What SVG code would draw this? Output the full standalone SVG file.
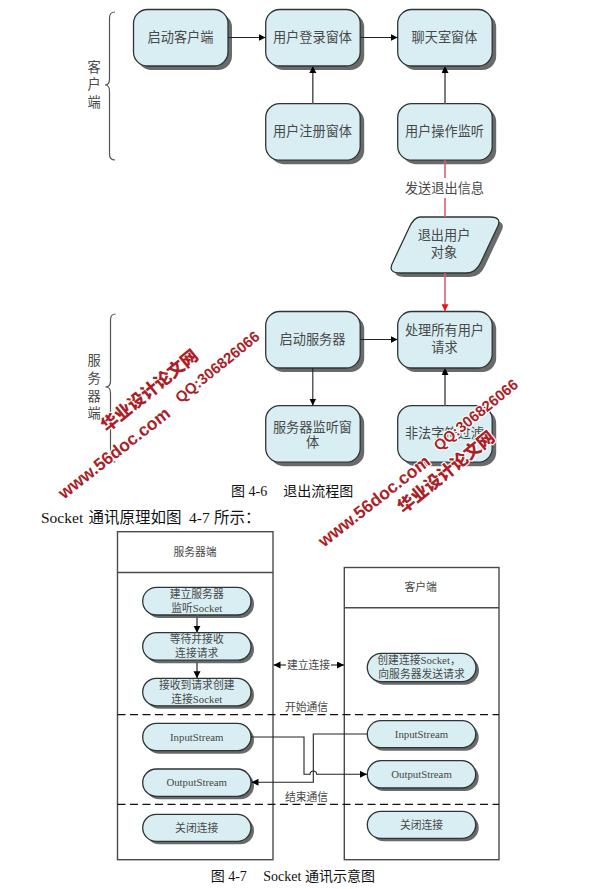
<svg xmlns="http://www.w3.org/2000/svg" width="601" height="889" viewBox="0 0 601 889">
<defs>
<marker id="ah" markerUnits="userSpaceOnUse" markerWidth="8" markerHeight="8" refX="7" refY="3.5" orient="auto-start-reverse"><path d="M0,0 L7,3.5 L0,7 Z" fill="#000"/></marker>
<marker id="ahr" markerUnits="userSpaceOnUse" markerWidth="8" markerHeight="8" refX="7" refY="3.5" orient="auto"><path d="M0,0 L7,3.5 L0,7 Z" fill="#e01818"/></marker>
</defs>
<style>
text{font-family:"Liberation Serif","Noto Sans CJK SC",serif;text-anchor:middle;fill:#484848;white-space:pre}
.t{font-size:13.2px}
.s{font-size:10.8px}
.cap{font-size:14px;fill:#111;text-anchor:start}
.body{font-size:15.5px;fill:#111;text-anchor:start}
.sh{fill:#6a6a6a}
.box{fill:#d8eef2;stroke:#2c3636;stroke-width:1.3}
.frame{fill:none;stroke:#4a4a4a;stroke-width:1.4}
.brace{fill:none;stroke:#555;stroke-width:1.2}
.dash{fill:none;stroke:#111;stroke-width:1.3;stroke-dasharray:8 4.5}
.c{fill:none;stroke:#222;stroke-width:1.1}
.g{fill:none;stroke:#5c5c5c;stroke-width:1.6}
.r{fill:none;stroke:#d9606c;stroke-width:1.6}
.wm{font-family:"Liberation Sans","Noto Sans CJK SC",sans-serif;font-weight:700;fill:#ab1f28;stroke:#fff;stroke-width:2.2px;paint-order:stroke;stroke-linejoin:round}
.wa{font-size:17.5px}
.wb{font-size:15px;font-weight:700}
.wc{font-size:17px;font-weight:900}
</style>

<g id="brace-client"><path class="brace" d="M115,12 Q109.5,12 109.5,18 V79 Q109.5,85 105,85 Q109.5,85 109.5,91 V154 Q109.5,160 115,160"/>
<text class="t" x="94" y="71.5">客</text><text class="t" x="94" y="89">户</text><text class="t" x="94" y="106.500">端</text></g>
<g id="brace-server"><path class="brace" d="M115.500,314 Q110.500,314 110.500,320 V381 Q110.500,387 105.500,387 Q110.500,387 110.500,393 V456 Q110.500,462 115.500,462"/>
<text class="t" x="94" y="365">服</text><text class="t" x="94" y="383">务</text><text class="t" x="94" y="400.500">器</text><text class="t" x="94" y="418">端</text></g>

<g id="n-start-client"><rect class="sh" x="137.500" y="13.500" width="94.500" height="56.500" rx="14"/><rect class="box" x="133.500" y="9.500" width="94.500" height="56.500" rx="14"/><text class="t" x="180.500" y="42">启动客户端</text></g>
<g id="n-login"><rect class="sh" x="269.700" y="13.500" width="94.500" height="56.500" rx="14"/><rect class="box" x="265.700" y="9.500" width="94.500" height="56.500" rx="14"/><text class="t" x="312.500" y="42">用户登录窗体</text></g>
<g id="n-chat"><rect class="sh" x="401.700" y="13.500" width="94.500" height="56.500" rx="14"/><rect class="box" x="397.700" y="9.500" width="94.500" height="56.500" rx="14"/><text class="t" x="444.500" y="42">聊天室窗体</text></g>
<g id="n-register"><rect class="sh" x="269.700" y="107.700" width="94.500" height="56.500" rx="14"/><rect class="box" x="265.700" y="103.700" width="94.500" height="56.500" rx="14"/><text class="t" x="312.500" y="136">用户注册窗体</text></g>
<g id="n-listen"><rect class="sh" x="401.700" y="107.700" width="94.500" height="56.500" rx="14"/><rect class="box" x="397.700" y="103.700" width="94.500" height="56.500" rx="14"/><text class="t" x="444.500" y="136">用户操作监听</text></g>
<g id="n-exit-obj"><path class="sh" transform="translate(4,4)" d="M420,217 H490 Q503,217 497,228 L481,262 Q476,273 466,273 H400 Q387,273 393,262 L409,228 Q414,217 420,217 Z"/><path class="box" d="M420,217 H490 Q503,217 497,228 L481,262 Q476,273 466,273 H400 Q387,273 393,262 L409,228 Q414,217 420,217 Z"/><text class="t" x="444" y="240">退出用户</text><text class="t" x="444" y="257">对象</text></g>
<g id="n-start-server"><rect class="sh" x="269.700" y="315.500" width="94.500" height="56.500" rx="14"/><rect class="box" x="265.700" y="311.500" width="94.500" height="56.500" rx="14"/><text class="t" x="312.500" y="344">启动服务器</text></g>
<g id="n-handle"><rect class="sh" x="401.700" y="315.500" width="94.500" height="56.500" rx="14"/><rect class="box" x="397.700" y="311.500" width="94.500" height="56.500" rx="14"/><text class="t" x="444.500" y="335">处理所有用户</text><text class="t" x="444.500" y="351.500">请求</text></g>
<g id="n-server-win"><rect class="sh" x="269.700" y="409.700" width="94.500" height="56.500" rx="14"/><rect class="box" x="265.700" y="405.700" width="94.500" height="56.500" rx="14"/><text class="t" x="312.500" y="431.500">服务器监听窗</text><text class="t" x="312.500" y="446.500">体</text></g>
<g id="n-filter"><rect class="sh" x="401.700" y="409.700" width="94.500" height="56.500" rx="14"/><rect class="box" x="397.700" y="405.700" width="94.500" height="56.500" rx="14"/><text class="t" x="444.500" y="438">非法字符过滤</text></g>

<text class="cap" x="231" y="496">图 4-6<tspan x="283.300">退出流程图</tspan></text>
<text class="body" x="41" y="523">Socket <tspan x="88.500">通讯原理如图</tspan><tspan x="189">4-7</tspan><tspan x="214">所示：</tspan></text>

<g id="frame-server"><rect class="frame" x="117.500" y="531.700" width="155.500" height="328"/><path class="frame" d="M117.500,572.500 H273"/><text class="s" x="195" y="556">服务器端</text></g>
<g id="frame-client"><rect class="frame" x="344.300" y="567.500" width="154.700" height="292.200"/><path class="frame" d="M344.300,607.700 H499"/><text class="s" x="420.700" y="591">客户端</text></g>

<g id="p-s1"><rect class="sh" x="145.700" y="590.300" width="108.300" height="27.700" rx="13.800"/><rect class="box" x="142.700" y="587.300" width="108.300" height="27.700" rx="13.800"/><text class="s" x="196.700" y="598">建立服务器</text><text class="s" x="196.700" y="612">监听Socket</text></g>
<g id="p-s2"><rect class="sh" x="145.700" y="635.700" width="108.300" height="27.500" rx="13.700"/><rect class="box" x="142.700" y="632.700" width="108.300" height="27.500" rx="13.700"/><text class="s" x="196.700" y="643.300">等待并接收</text><text class="s" x="196.700" y="657.300">连接请求</text></g>
<g id="p-s3"><rect class="sh" x="145.700" y="681.300" width="108.300" height="27.500" rx="13.700"/><rect class="box" x="142.700" y="678.300" width="108.300" height="27.500" rx="13.700"/><text class="s" x="196.700" y="689">接收到请求创建</text><text class="s" x="196.700" y="703">连接Socket</text></g>
<g id="p-s4"><rect class="sh" x="145.700" y="726.300" width="108.300" height="27.400" rx="13.700"/><rect class="box" x="142.700" y="723.300" width="108.300" height="27.400" rx="13.700"/><text class="s" x="196.700" y="740.500">InputStream</text></g>
<g id="p-s5"><rect class="sh" x="145.700" y="772" width="108.300" height="27.300" rx="13.600"/><rect class="box" x="142.700" y="769" width="108.300" height="27.300" rx="13.600"/><text class="s" x="196.700" y="786">OutputStream</text></g>
<g id="p-s6"><rect class="sh" x="145.700" y="817.300" width="108.300" height="27" rx="13.500"/><rect class="box" x="142.700" y="814.300" width="108.300" height="27" rx="13.500"/><text class="s" x="196.700" y="831.500">关闭连接</text></g>
<g id="p-c1"><rect class="sh" x="370.300" y="656.300" width="108.700" height="28.400" rx="14.200"/><rect class="box" x="367.300" y="653.300" width="108.700" height="28.400" rx="14.200"/><text class="s" x="419" y="663.500">创建连接Socket，</text><text class="s" x="421.500" y="678">向服务器发送请求</text></g>
<g id="p-c2"><rect class="sh" x="370.300" y="723.700" width="108.400" height="27" rx="13.500"/><rect class="box" x="367.300" y="720.700" width="108.400" height="27" rx="13.500"/><text class="s" x="421.500" y="738">InputStream</text></g>
<g id="p-c3"><rect class="sh" x="370.300" y="763.700" width="108.400" height="27.300" rx="13.600"/><rect class="box" x="367.300" y="760.700" width="108.400" height="27.300" rx="13.600"/><text class="s" x="421.500" y="778">OutputStream</text></g>
<g id="p-c4"><rect class="sh" x="370.300" y="814.300" width="108.400" height="27" rx="13.500"/><rect class="box" x="367.300" y="811.300" width="108.400" height="27" rx="13.500"/><text class="s" x="421.500" y="828.500">关闭连接</text></g>

<g id="connectors">
<path class="c" marker-end="url(#ah)" d="M228,37.500 H265.500"/>
<path class="c" marker-end="url(#ah)" d="M360.200,37.500 H397.500"/>
<path class="g" marker-end="url(#ah)" d="M312.800,103.700 V66"/>
<path class="g" marker-end="url(#ah)" d="M445,103.700 V66"/>
<path class="r" d="M445,160.200 V178"/>
<path class="r" d="M445,198 V217"/>
<path class="r" marker-end="url(#ahr)" d="M445,273 V311.300"/>
<path class="c" marker-end="url(#ah)" d="M360.200,339.500 H397.500"/>
<path class="c" marker-end="url(#ah)" d="M312.800,368 V405.500"/>
<path class="g" marker-end="url(#ah)" d="M445,405.700 V368"/>
<path class="g" marker-end="url(#ah)" d="M197,615 V632.700"/>
<path class="g" marker-end="url(#ah)" d="M197,660.200 V678.300"/>
<path class="c" marker-end="url(#ah)" d="M286,665 H273.500"/>
<path class="c" marker-end="url(#ah)" d="M331,665 H344"/>
<path class="c" marker-end="url(#ah)" d="M251,737 H304 V774.300 H310 A3.300,3.300 0 0 1 316.600,774.300 H367"/>
<path class="c" marker-end="url(#ah)" d="M367.300,734 H313.300 V782.300 H251.500"/>
<path class="dash" d="M117.500,714.700 H499"/>
<path class="dash" d="M117.500,804.300 H499"/>
</g>
<text class="t" x="444.500" y="192.500">发送退出信息</text>
<text class="s" x="308.500" y="669">建立连接</text>
<text class="s" x="306.500" y="711">开始通信</text>
<text class="s" x="306.500" y="801">结束通信</text>
<text class="cap" x="210.700" y="881">图 4-7<tspan x="263.300">Socket</tspan><tspan x="305">通讯示意图</tspan></text>

<g id="watermark">
<text class="wm wc" transform="translate(149.500,390.500) rotate(-39)" y="6">华业设计论文网</text>
<text class="wm wa" transform="translate(114,453) rotate(-38)" y="6">www.56doc.com</text>
<text class="wm wb" transform="translate(217.500,367) rotate(-39)" y="5">QQ:306826066</text>
<text class="wm wa" transform="translate(374,501) rotate(-38)" y="6">www.56doc.com</text>
<text class="wm wb" transform="translate(476,415) rotate(-39)" y="5">QQ:306826066</text>
<text class="wm wc" transform="translate(446,472) rotate(-39)" y="6">华业设计论文网</text>
</g>
</svg>
